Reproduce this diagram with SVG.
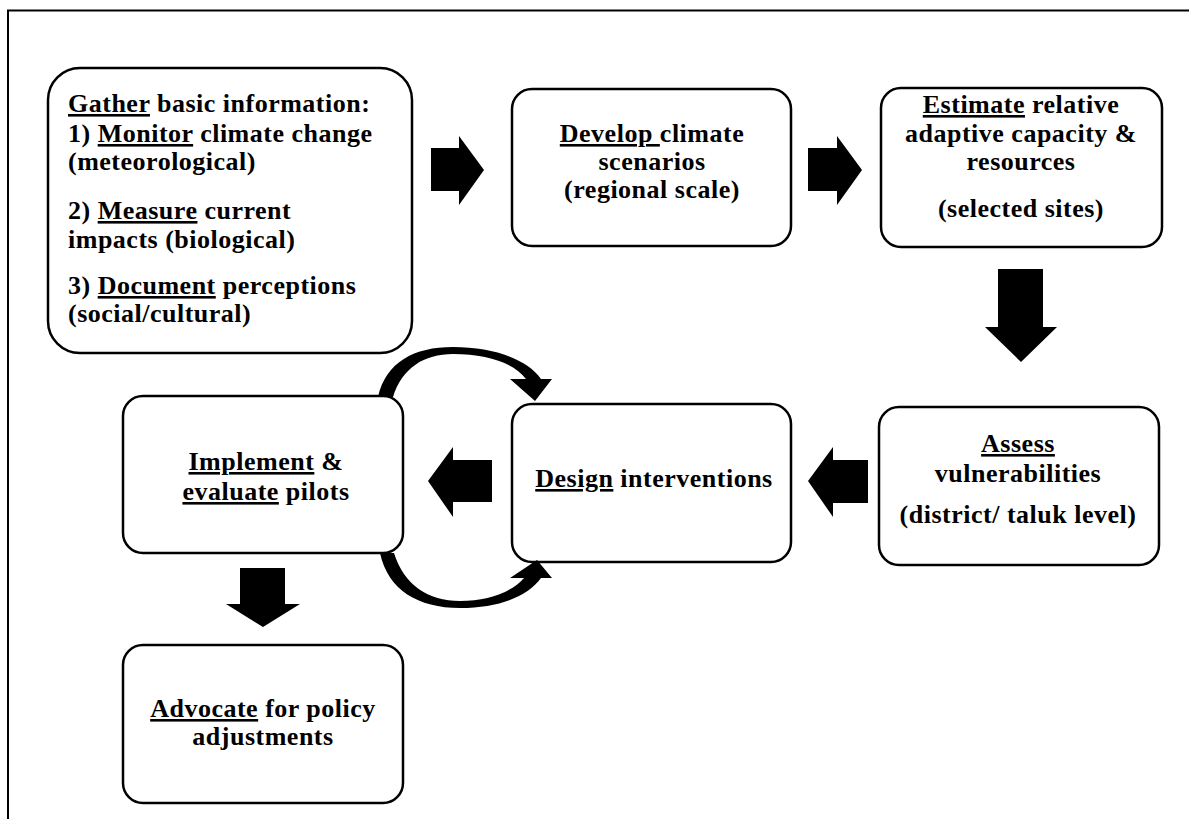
<svg xmlns="http://www.w3.org/2000/svg" width="1189" height="819" viewBox="0 0 1189 819">
<style>
.box{fill:#fff;stroke:#000;stroke-width:2.5}
.t{font-family:'Liberation Serif','Times New Roman',serif;font-weight:700;font-size:26px;letter-spacing:0.5px;fill:#000}
.c{text-anchor:middle}
.u{text-decoration:underline}
.arr{fill:#000;stroke:none}
</style>
<rect x="0" y="0" width="1189" height="819" fill="#fff"/>
<rect x="8" y="10.5" width="1300" height="900" fill="none" stroke="#000" stroke-width="2"/>
<g id="gather">
<rect class="box" x="48" y="68" width="364" height="285" rx="32"/>
<text class="t" x="68" y="112"><tspan class="u">Gather</tspan> basic information:</text>
<text class="t" x="68" y="142">1) <tspan class="u">Monitor</tspan> climate change</text>
<text class="t" x="68" y="170">(meteorological)</text>
<text class="t" x="68" y="219">2) <tspan class="u">Measure</tspan> current</text>
<text class="t" x="68" y="248">impacts (biological)</text>
<text class="t" x="68" y="294">3) <tspan class="u">Document</tspan> perceptions</text>
<text class="t" x="68" y="322">(social/cultural)</text>
</g>
<g id="develop">
<rect class="box" x="512" y="89" width="279" height="157" rx="20"/>
<text class="t c" x="652" y="142"><tspan class="u">Develop </tspan>climate</text>
<text class="t c" x="652" y="170">scenarios</text>
<text class="t c" x="652" y="198">(regional scale)</text>
</g>
<g id="estimate">
<rect class="box" x="881" y="88" width="281" height="159" rx="20"/>
<text class="t c" x="1021" y="113"><tspan class="u">Estimate</tspan> relative</text>
<text class="t c" x="1021" y="142">adaptive capacity &amp;</text>
<text class="t c" x="1021" y="170">resources</text>
<text class="t c" x="1021" y="217">(selected sites)</text>
</g>
<g id="assess">
<rect class="box" x="879" y="407" width="280" height="158" rx="20"/>
<text class="t c" x="1018" y="452"><tspan class="u">Assess</tspan></text>
<text class="t c" x="1018" y="482">vulnerabilities</text>
<text class="t c" x="1018" y="523">(district/ taluk level)</text>
</g>
<g id="design">
<rect class="box" x="512" y="404" width="279" height="158" rx="20"/>
<text class="t c" x="654" y="487"><tspan class="u">Design</tspan> interventions</text>
</g>
<g id="implement">
<rect class="box" x="123" y="396" width="280" height="157" rx="20"/>
<text class="t c" x="266" y="470"><tspan class="u">Implement</tspan> &amp;</text>
<text class="t c" x="266" y="500"><tspan class="u">evaluate</tspan> pilots</text>
</g>
<g id="advocate">
<rect class="box" x="123" y="645" width="280" height="158" rx="20"/>
<text class="t c" x="263" y="717"><tspan class="u">Advocate</tspan> for policy</text>
<text class="t c" x="263" y="745">adjustments</text>
</g>
<g id="connectors">
<polygon class="arr" points="431,148 459,148 459,136 484,170 459,205 459,191 431,191"/>
<polygon class="arr" points="808,148 837,148 837,136 862,170 837,205 837,191 808,191"/>
<polygon class="arr" points="998,269 1043,269 1043,327 1057,327 1021,362 985,327 998,327"/>
<polygon class="arr" points="868,460 833,460 833,447 808,481 833,517 833,503 868,503"/>
<polygon class="arr" points="492,460 453,460 453,447 428,481 453,517 453,502 492,502"/>
<polygon class="arr" points="240,568 285,568 285,604 300,604 263,627 226,604 240,604"/>
<path class="arr" d="M 378,397 C 386,362 414,347 453,347 C 495,347 528,360 541,379 L 552,379 L 535,401 L 510,379 L 526,379 C 514,363 487,354 453,354 C 424,354 402,368 393,397 Z"/>
<path class="arr" d="M 380,553 C 388,590 418,608 460,608 C 500,608 528,596 541,578 L 552,578 L 537,560 L 510,578 L 524,578 C 512,592 488,601 460,601 C 428,601 404,585 394,553 Z"/>
</g>
</svg>
